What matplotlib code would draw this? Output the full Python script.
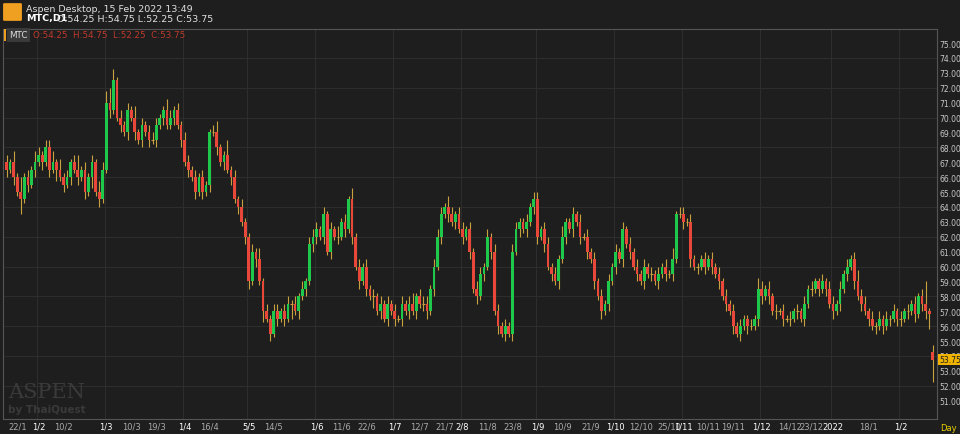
import matplotlib.pyplot as plt
from matplotlib.patches import FancyBboxPatch, Rectangle

# daily closes, Jan 2021 .. 15 Feb 2022
closes = [
    66.5, 67, 66, 65, 64.5, 66, 65.5, 66.5, 67,
    67.5, 67, 68, 66.5, 67, 66.5, 66, 65.5, 66, 67, 66.5, 66, 66.5, 65, 66, 67, 65, 64.5, 66.5,
    71, 70.5, 72.5, 70, 69.5, 69, 70.5, 70, 69, 68.5, 69.5, 69, 68.5, 68.5, 69.5, 70, 70.5, 69.5, 70, 70.5, 69.5, 68.5,
    67, 66.5, 66, 65, 66, 65, 65.5, 69, 69, 68, 67, 67.5, 66.5, 66, 64.5, 64, 63, 62,
    59, 61, 60.5, 59, 57, 56.5, 55.5, 57, 56.5, 57, 56.5, 57.5, 57.5, 57, 58, 58.5, 59, 61.5, 62,
    62.5, 62, 63.5, 61, 62.5, 62, 62, 63, 62.5, 64.5, 62, 60, 59, 60, 58.5, 58, 58, 57, 57.5, 56.5, 57.5, 57,
    56.5, 56.5, 57.5, 57, 57.5, 57, 58, 57.5, 57.5, 57, 58.5, 60, 62, 63.5, 64, 63.5, 63, 63.5, 62.5,
    62, 62.5, 61, 58.5, 58, 59.5, 60, 62, 61, 57, 56, 55.5, 56, 55.5, 61, 62.5, 63, 62.5, 63, 64, 64.5,
    62, 62.5, 61.5, 60, 59.5, 59, 60.5, 62, 63, 62.5, 63.5, 63, 62, 62, 61, 60.5, 59, 58, 57, 57.5, 59, 60,
    61, 60.5, 62.5, 61.5, 61, 60, 59.5, 59, 60, 59.5, 59.5, 59, 59.5, 60, 59.5, 59.5, 60.5, 63.5, 63.5,
    63, 63, 60.5, 60, 60, 60.5, 60, 60.5, 60, 59.5, 59, 58, 57.5, 57, 56, 55.5, 56, 56.5, 56, 56, 56.5, 58.5,
    58, 58.5, 58, 57, 57, 57, 56.5, 56.5, 56.5, 57, 57, 56.5, 57.5, 58.5, 58.5, 59, 58.5, 59, 58.5, 57.5,
    57, 57.5, 58.5, 59.5, 60, 60.5, 59, 58, 57.5, 57, 56.5, 56, 56, 56.5, 56, 56.5, 56.5, 57, 56.5,
    56.5, 57, 57, 57.5, 56.8, 58, 57.5, 57, 56.8, 53.75,
]
first_open = 67.0
last_open = 54.25
last_wick = (0.5, 1.5)
# wick extensions in quarter points, one digit per candle
wick_up = ("213141213" "2122313121241212132" "3431212131212221132121" "221212112311412121"
           "1213121221221212122" "2121213121312121212121" "2121231222122213212" "212122121221212211212"
           "2122121311212121212121" "2121212121212121312" "2121112121212121211213" "21212121212121211212"
           "2121212322121212121" "212121261")
wick_dn = ("212141212" "1212131212121213121" "1211212121212121211212" "121212121212121212"
           "2121312121214121212" "2121212121212121312121" "2121212122121212121" "212121212121212121212"
           "2121212121212121212121" "2121212121212121211" "2121212121212121212112" "21212121212121212121"
           "2121212121212121212" "212121224")

month_idx = [0, 9, 28, 50, 68, 87, 109, 128, 149, 171, 190, 212, 232, 251]
tick_idx = [3, 9, 16, 28, 35, 42, 50, 57, 68, 75, 87, 94, 101, 109, 116, 123, 128, 135, 142,
            149, 156, 164, 171, 178, 186, 190, 197, 204, 212, 220, 226, 232, 242, 251]
tick_labels = ["22/1", "1/2", "10/2", "1/3", "10/3", "19/3", "1/4", "16/4", "5/5", "14/5", "1/6",
               "11/6", "22/6", "1/7", "12/7", "21/7", "2/8", "11/8", "23/8", "1/9", "10/9", "21/9",
               "1/10", "12/10", "25/10", "1/11", "10/11", "19/11", "1/12", "14/12", "23/12", "2022",
               "18/1", "1/2"]
major_labels = {"1/2", "1/3", "1/4", "5/5", "1/6", "1/7", "2/8", "1/9", "1/10", "1/11", "1/12", "2022"}

BG = "#1e1e1e"
GREEN = "#1ec84a"
RED = "#e8473a"
WICK = "#c9a13e"
GRID = "#2e2e2e"

n = len(closes)
opens = [first_open] + closes[:-1]
opens[-1] = last_open

fig = plt.figure(figsize=(9.6, 4.35), dpi=100, facecolor=BG)
ax = fig.add_axes([3 / 960, 15 / 435, 934 / 960, 390 / 435], facecolor=BG)
ax.set_xlim(-1, n + 0.2)
ax.set_ylim(49.77, 75.94)

for i in range(n):
    o, c = opens[i], closes[i]
    top, bot = max(o, c), min(o, c)
    if i == n - 1:
        up, dn = last_wick
    else:
        up = int(wick_up[i % len(wick_up)]) * 0.25
        dn = int(wick_dn[i % len(wick_dn)]) * 0.25
    ax.vlines(i, bot - dn, top + up, color=WICK, lw=0.8, zorder=2)
    if abs(c - o) < 0.05:
        ax.hlines(c, i - 0.35, i + 0.35, color=WICK, lw=0.8, zorder=3)
    else:
        ax.add_patch(Rectangle((i - 0.38, bot), 0.76, top - bot,
                               color=GREEN if c > o else RED, lw=0, zorder=3))

for y in range(52, 76, 2):
    ax.axhline(y, color=GRID, lw=0.7, zorder=0)
for m in month_idx[1:]:
    ax.axvline(m - 0.5, color=GRID, lw=0.7, zorder=0)

ax.yaxis.tick_right()
ax.set_yticks(range(51, 76))
ax.set_yticklabels([f"{v:.2f}" for v in range(51, 76)], fontsize=5.5, color="#c8c8c8")
ax.set_xticks(tick_idx)
ax.set_xticklabels(tick_labels, fontsize=6)
for lab in ax.get_xticklabels():
    lab.set_color("#ffffff" if lab.get_text() in major_labels else "#aaaaaa")
ax.tick_params(length=0, pad=2)
ax.tick_params(axis="y", pad=1.5)
for s in ax.spines.values():
    s.set_color("#555555")
    s.set_linewidth(0.8)

# last price tag
ax.text(1.002, (53.75 - 49.77) / (75.94 - 49.77), "53.75", transform=ax.transAxes, fontsize=5.5,
        color="#1e1e1e", va="center", ha="left",
        bbox=dict(boxstyle="square,pad=0.12", fc="#f0b400", ec="none"))
fig.text(940 / 960, 6 / 435, "Day", fontsize=6, color="#e8d000", va="center")

# header
fig.add_artist(FancyBboxPatch((5 / 960, 1 - 21 / 435), 15 / 960, 16 / 435, boxstyle="round,pad=0.002",
                              transform=fig.transFigure, fc="#f0a020", ec="none"))
fig.text(26 / 960, 1 - 9 / 435, "Aspen Desktop, 15 Feb 2022 13:49", fontsize=6.8, color="#e0e0e0", va="center")
fig.text(26 / 960, 1 - 19 / 435, "MTC,D1", fontsize=6.8, color="#ffffff", weight="bold", va="center")
fig.text(57 / 960, 1 - 19 / 435, "O:54.25 H:54.75 L:52.25 C:53.75", fontsize=6.8, color="#e0e0e0", va="center")
fig.text(9 / 960, 1 - 36 / 435, "MTC", fontsize=6.3, color="#dddddd", va="center",
         bbox=dict(boxstyle="square,pad=0.25", fc="#3a3a3a", ec="none"))
fig.add_artist(Rectangle((4 / 960, 1 - 42 / 435), 2 / 960, 12 / 435, transform=fig.transFigure,
                         fc="#f0a020", ec="none"))
fig.text(33 / 960, 1 - 36 / 435, "O:54.25  H:54.75  L:52.25  C:53.75", fontsize=6.3, color="#c0392b", va="center")

# watermark
fig.text(8 / 960, 1 - 393 / 435, "ASPEN", fontsize=15, family="DejaVu Serif", color="#3a3a3a", va="center")
fig.text(8 / 960, 1 - 410 / 435, "by ThaiQuest", fontsize=7.5, color="#3a3a3a", weight="bold", va="center")

fig.savefig("out.png", dpi=100, facecolor=BG)
